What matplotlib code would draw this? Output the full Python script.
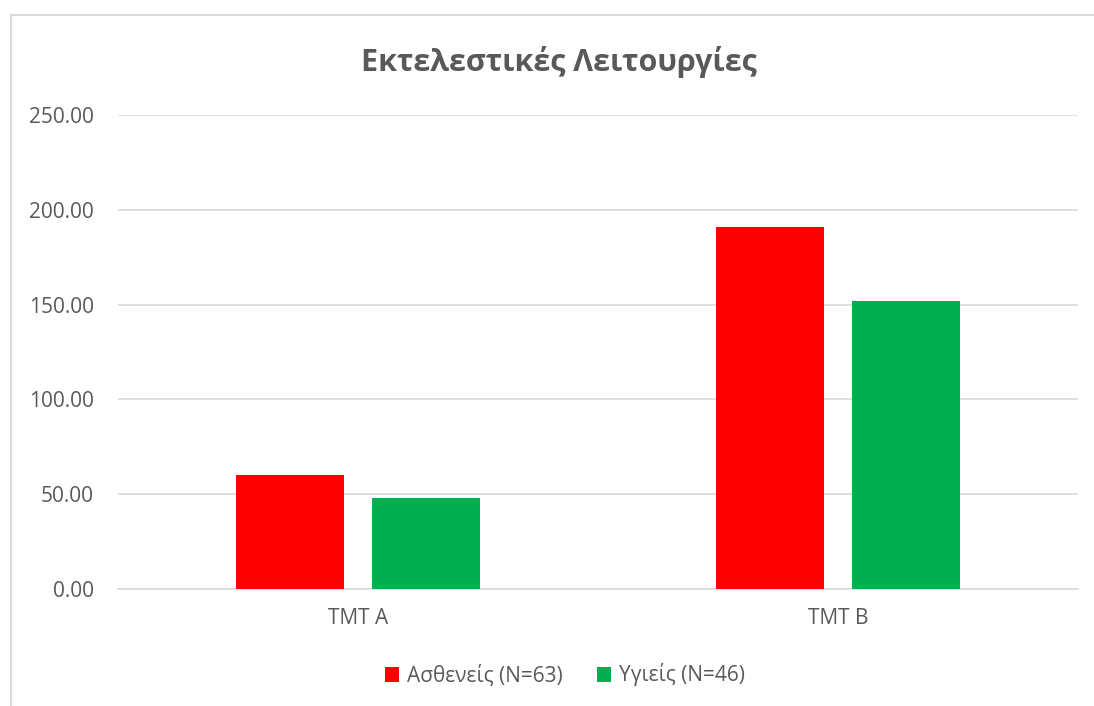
#bar chart of executive functions (TMT A / TMT B)
import numpy as np
import matplotlib.pyplot as plt
from matplotlib.patches import Rectangle

plt.rcParams['font.family'] = ['Open Sans', 'Noto Sans', 'DejaVu Sans']

#data
categories = ['TMT A', 'TMT B']
patients = [60.0, 191.0]
healthy = [48.0, 152.0]
series_names = ['Ασθενείς (N=63)', 'Υγιείς (N=46)']
title = 'Εκτελεστικές Λειτουργίες'

text_col = '#595959'
grid_col = '#D9D9D9'

fig = plt.figure(figsize=(10.94, 7.06), dpi=100)
#chart border (runs off the right and bottom of the picture)
fig.patches.append(Rectangle((11/1094, -0.05), 1.2, 1-15/706+0.05, transform=fig.transFigure,
                             fill=False, edgecolor=grid_col, linewidth=1.5))
ax = fig.add_axes([118/1094, 1-589/706, 960/1094, 474/706])

x = np.arange(len(categories))
w = 0.223
off = 0.1417
ax.bar(x-off, patients, w, color='#FF0000', label=series_names[0], zorder=3)
ax.bar(x+off, healthy, w, color='#00B050', label=series_names[1], zorder=3)

ax.set_xlim(-0.5, 1.5)
ax.set_ylim(0, 250)
ax.set_yticks(np.arange(0, 251, 50))
ax.set_yticklabels(['%.2f' % v for v in np.arange(0, 251, 50)])
ax.set_xticks(x)
ax.set_xticklabels(categories)
ax.tick_params(axis='both', length=0, colors=text_col, labelsize=15)
ax.tick_params(axis='y', pad=17.5)
ax.tick_params(axis='x', pad=14)
ax.yaxis.grid(True, color=grid_col, linewidth=1.2, zorder=0)
for s in ['top', 'right', 'left']:
    ax.spines[s].set_visible(False)
ax.spines['bottom'].set_color(grid_col)
ax.spines['bottom'].set_linewidth(1.2)

fig.text(559/1094, 1-62/706, title, ha='center', va='center', fontsize=22,
         fontweight='bold', color=text_col)

leg = fig.legend(loc='center', bbox_to_anchor=(565/1094, 1-675/706), ncol=2, frameon=False,
                 fontsize=15, handlelength=0.7, handleheight=0.7, handletextpad=0.4,
                 columnspacing=1.6)
for t in leg.get_texts():
    t.set_color(text_col)

fig.savefig('out.png', dpi=100)
